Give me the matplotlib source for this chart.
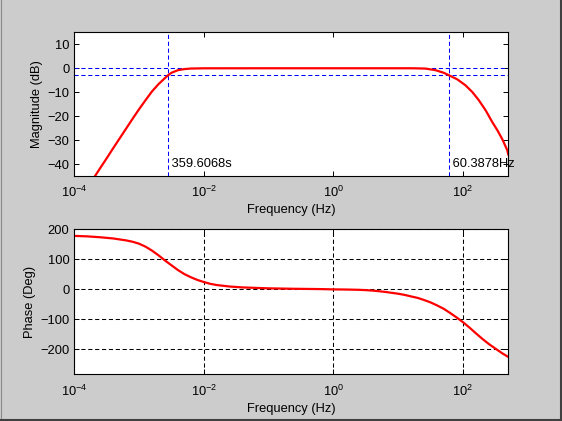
import matplotlib
matplotlib.use("Agg")
import matplotlib.pyplot as plt
from matplotlib.lines import Line2D

plt.rcParams['font.family'] = ['Liberation Sans', 'DejaVu Sans']
plt.rcParams['mathtext.fontset'] = 'custom'
plt.rcParams['mathtext.rm'] = 'Liberation Sans'
plt.rcParams['mathtext.it'] = 'Liberation Sans'

# ---- data ----
mag_freq = [2.09e-4, 2.51e-4, 3.16e-4, 3.98e-4, 5.01e-4, 6.31e-4, 7.94e-4, 1.0e-3,
            1.26e-3, 1.58e-3, 2.0e-3, 2.51e-3, 2.78e-3, 3.16e-3, 3.98e-3, 5.01e-3,
            6.31e-3, 1.0e-2, 1.0e-1, 1.0, 10.0, 15.8, 20.0, 26.3, 37.6, 50.5, 60.4,
            81.3, 109.0, 139.0, 175.0, 223.0, 282.0, 338.0, 404.0, 482.0, 500.0]
mag_db = [-45.0, -41.7, -37.6, -33.4, -29.3, -25.2, -21.1, -17.1,
          -13.3, -9.7, -6.6, -4.1, -3.0, -1.9, -0.8, -0.35,
          -0.12, -0.02, 0.0, 0.0, 0.0, 0.0, -0.05, -0.14, -0.8, -1.9, -2.9,
          -4.6, -7.1, -9.9, -13.3, -17.5, -22.4, -25.8, -29.6, -34.2, -36.0]

ph_freq = [1.0e-4, 1.58e-4, 2.51e-4, 3.98e-4, 6.31e-4, 7.94e-4, 1.0e-3, 1.26e-3,
           1.58e-3, 2.0e-3, 2.51e-3, 3.16e-3, 3.98e-3, 5.01e-3, 6.31e-3, 7.94e-3,
           1.0e-2, 1.26e-2, 1.58e-2, 2.51e-2, 3.98e-2, 6.31e-2, 1.0e-1, 0.251,
           0.631, 1.0, 1.58, 2.51, 3.16, 3.98, 5.01, 6.31, 7.94, 10.0, 12.6, 15.8,
           20.0, 25.1, 31.6, 39.8, 50.1, 63.1, 79.4, 100.0, 126.0, 158.0, 200.0,
           251.0, 316.0, 398.0, 500.0]
ph_deg = [178.0, 176.5, 173.5, 169.5, 163.0, 158.5, 152.0, 142.0,
          129.0, 113.0, 96.0, 80.0, 64.0, 50.5, 40.0, 31.0,
          24.0, 18.0, 14.0, 9.0, 6.0, 4.5, 3.0, 1.5,
          0.5, -0.5, -1.0, -2.0, -3.0, -4.5, -6.5, -9.0, -12.0, -15.0, -19.0, -24.0,
          -29.0, -36.0, -44.0, -54.0, -65.0, -79.0, -94.0, -110.0, -128.0, -147.0, -166.0,
          -183.0, -198.0, -213.0, -226.0]

f_high = 1 / 359.6068   # high-pass corner (Hz)
f_low = 60.3878         # low-pass corner (Hz)
hp_label = ' 359.6068s'
lp_label = ' 60.3878Hz'

xticks = [1e-4, 1e-2, 1e0, 1e2]
mag_yticks = [-40, -30, -20, -10, 0, 10]
ph_yticks = [-200, -100, 0, 100, 200]

# ---- figure ----
bg = '#cccccc'
fig = plt.figure(figsize=(5.62, 4.21), dpi=100, facecolor=bg)

fs = 9.3
dash = (4, 2.6)

def style(ax):
    ax.set_xscale('log')
    ax.set_xlim(1e-4, 500)
    ax.set_xticks(xticks)
    ax.xaxis.set_minor_locator(matplotlib.ticker.NullLocator())
    ax.tick_params(direction='in', top=True, right=True, length=3.5, width=0.7,
                   labelsize=fs)
    ax.tick_params(axis='x', pad=6.5)
    ax.tick_params(axis='y', pad=3.5)
    for s in ax.spines.values():
        s.set_linewidth(0.8)
    ax.set_xlabel('Frequency (Hz)', fontsize=fs, labelpad=3)

ax1 = fig.add_axes([0.1322, 0.5819, 0.7722, 0.3413])
style(ax1)
ax1.set_ylim(-45, 15)
ax1.set_yticks(mag_yticks)
ax1.set_ylabel('Magnitude (dB)', fontsize=fs, labelpad=3)
ax1.axhline(0, color='#0000ff', lw=0.75, dashes=dash)
ax1.axhline(-3, color='#0000ff', lw=0.75, dashes=dash)
ax1.axvline(f_high, color='#0000ff', lw=0.75, dashes=dash)
ax1.axvline(f_low, color='#0000ff', lw=0.75, dashes=dash)
ax1.plot(mag_freq, mag_db, color='#ff0000', lw=1.6, solid_joinstyle='round')
ax1.text(f_high, -40, hp_label, fontsize=fs, va='center', ha='left')
ax1.text(f_low, -40, lp_label, fontsize=fs, va='center', ha='left', clip_on=False)

ax2 = fig.add_axes([0.1322, 0.1109, 0.7722, 0.3444])
style(ax2)
ax2.set_ylim(-284, 200)
ax2.set_yticks(ph_yticks)
ax2.set_ylabel('Phase (Deg)', fontsize=fs, labelpad=3)
ax2.grid(True, which='major', color='black', lw=0.75, dashes=dash)
ax2.plot(ph_freq, ph_deg, color='#ff0000', lw=1.6, solid_joinstyle='round')

# window frame
fig.add_artist(Line2D([0.5/562, 0.5/562], [0, 1], transform=fig.transFigure, color='#8a8a8a', lw=0.8))
fig.add_artist(Line2D([0, 1], [1.2/421, 1.2/421], transform=fig.transFigure, color='#404040', lw=1.5))
fig.add_artist(Line2D([1 - 1.2/562, 1 - 1.2/562], [0, 1], transform=fig.transFigure, color='#404040', lw=1.5))

fig.savefig('out.png', dpi=100, facecolor=bg)
